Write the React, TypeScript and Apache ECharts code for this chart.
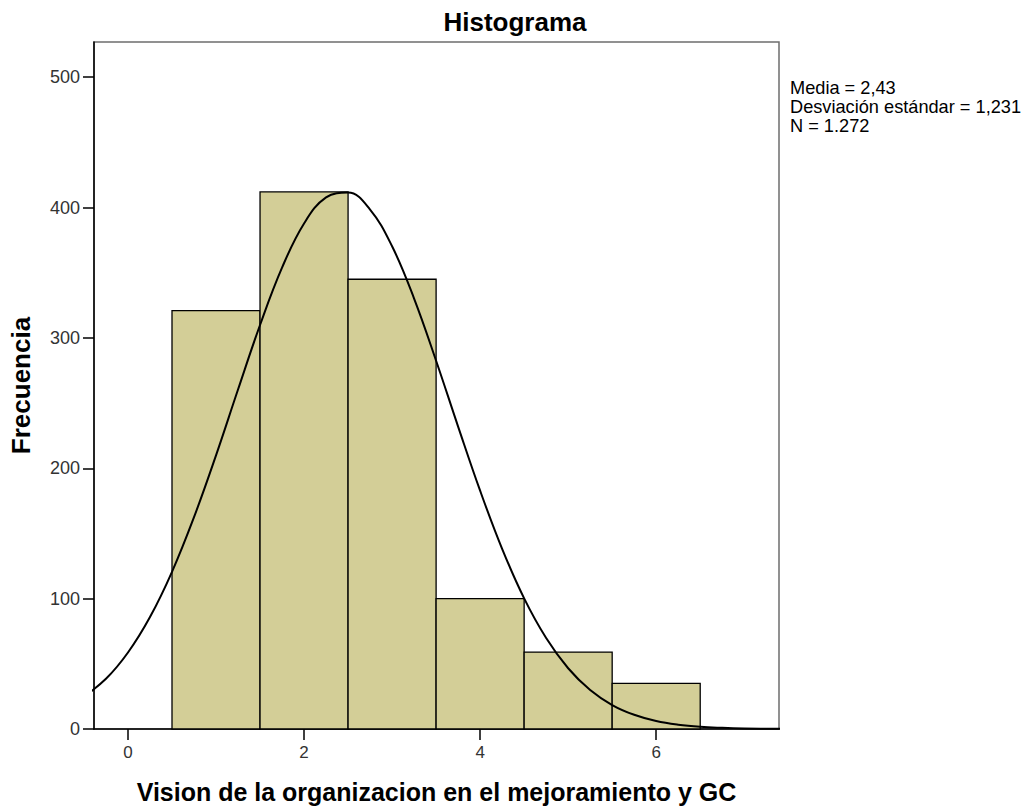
import React, { useEffect, useRef } from "react";
import * as echarts from "echarts";

// Histogram bins: [start, end] and frequencies
const binStarts = [0.5, 1.5, 2.5, 3.5, 4.5, 5.5];
const binEnds = [1.5, 2.5, 3.5, 4.5, 5.5, 6.5];
const frequencies = [321, 412, 345, 100, 59, 35];

// Normal curve points
const curveX = [-0.5, -0.25, 0, 0.25, 0.5, 0.75, 1, 1.25, 1.5, 1.75, 2, 2.25, 2.5, 2.75, 3, 3.25, 3.5, 3.75, 4, 4.25, 4.5, 4.75, 5, 5.25, 5.5, 5.75, 6, 6.25, 6.5, 6.75, 7, 7.25, 7.5];
const curveY = [25.0, 38.5, 58.7, 85.9, 120.6, 162.5, 209.9, 260.4, 309.9, 353.9, 387.8, 407.8, 411.5, 398.5, 370.3, 330.2, 282.5, 232.0, 182.8, 138.2, 100.2, 69.8, 46.6, 29.9, 18.4, 10.9, 6.1, 3.3, 1.7, 0.9, 0.4, 0.2, 0.1];

const xTicks = [0, 2, 4, 6];
const yTicks = [0, 100, 200, 300, 400, 500];

const statsLines = ["Media = 2,43", "Desviación estándar = 1,231", "N = 1.272"];

const FONT = 'Arial, "Liberation Sans", sans-serif';

export default function App() {
  const ref = useRef<HTMLDivElement>(null);

  useEffect(() => {
    document.body.style.margin = "0";
    if (!ref.current) return;
    const chart = echarts.init(ref.current, null, { renderer: "svg" });

    const barData = binStarts.map((s, i) => [s, binEnds[i], frequencies[i]]);
    const lineData = curveX.map((x, i) => [x, curveY[i]]);

    chart.setOption({
      animation: false,
      backgroundColor: "#ffffff",
      title: {
        text: "Histograma",
        left: "center",
        top: 4,
        textStyle: { fontFamily: FONT, fontSize: 26, fontWeight: "bold", color: "#000" },
      },
      grid: {
        left: 93,
        top: 42,
        width: 686,
        height: 690,
        show: true,
        borderColor: "#6e6e6e",
        borderWidth: 1.5,
        backgroundColor: "transparent",
      },
      xAxis: {
        type: "value",
        min: -0.386,
        max: 7.395,
        name: "Vision de la organizacion en el mejoramiento y GC",
        nameLocation: "middle",
        nameGap: 50,
        nameTextStyle: { fontFamily: FONT, fontSize: 25, fontWeight: "bold", color: "#000" },
        axisLine: { show: true, onZero: false, lineStyle: { color: "#000", width: 1.5 } },
        axisTick: { show: true, length: 11, customValues: xTicks, lineStyle: { color: "#000", width: 1.5 } },
        axisLabel: {
          customValues: xTicks,
          margin: 15,
          fontFamily: FONT,
          fontSize: 17,
          color: "#333",
        },
        splitLine: { show: false },
      },
      yAxis: {
        type: "value",
        min: 0,
        max: 527,
        name: "Frecuencia",
        nameLocation: "middle",
        nameGap: 60,
        nameRotate: 90,
        nameTextStyle: { fontFamily: FONT, fontSize: 26, fontWeight: "bold", color: "#000" },
        axisLine: { show: true, onZero: false, lineStyle: { color: "#000", width: 1.5 } },
        axisTick: { show: true, length: 11, customValues: yTicks, lineStyle: { color: "#000", width: 1.5 } },
        axisLabel: {
          customValues: yTicks,
          margin: 14,
          fontFamily: FONT,
          fontSize: 18,
          color: "#333",
        },
        splitLine: { show: false },
      },
      graphic: [
        {
          type: "text",
          left: 790,
          top: 78,
          style: {
            text: statsLines.join("\n"),
            fontFamily: FONT,
            fontSize: 18.2,
            lineHeight: 19,
            fill: "#000",
          },
        },
      ],
      series: [
        {
          type: "custom",
          data: barData,
          encode: { x: [0, 1], y: 2 },
          z: 2,
          renderItem: (params: any, api: any) => {
            const x0 = api.value(0);
            const x1 = api.value(1);
            const y = api.value(2);
            const p0 = api.coord([x0, y]);
            const p1 = api.coord([x1, 0]);
            return {
              type: "rect",
              shape: { x: p0[0], y: p0[1], width: p1[0] - p0[0], height: p1[1] - p0[1] },
              style: { fill: "#d3ce97", stroke: "#000", lineWidth: 1.3 },
            };
          },
        },
        {
          type: "line",
          data: lineData,
          smooth: 0.4,
          showSymbol: false,
          clip: true,
          z: 3,
          lineStyle: { color: "#000", width: 2 },
        },
      ],
    });

    return () => chart.dispose();
  }, []);

  return <div ref={ref} style={{ width: 1030, height: 809 }} />;
}
